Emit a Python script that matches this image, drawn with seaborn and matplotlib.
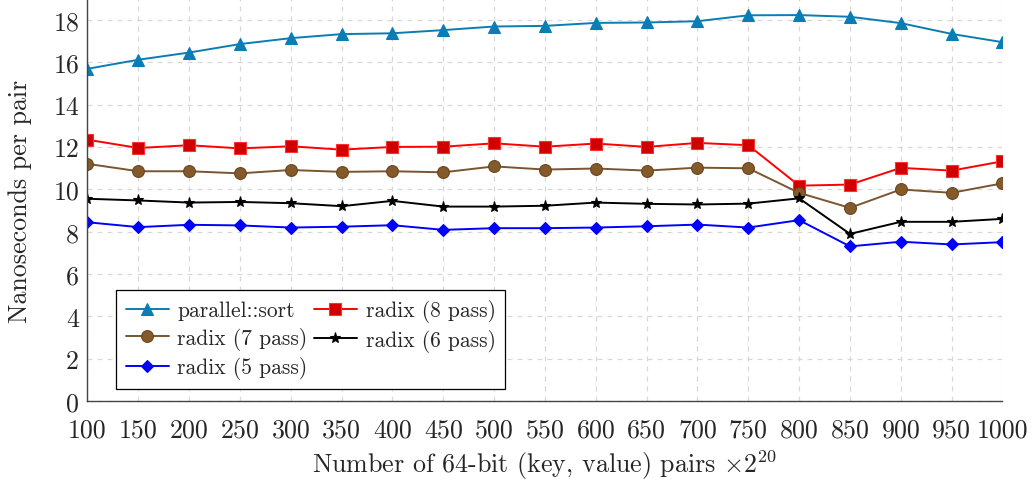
import matplotlib
matplotlib.use("Agg")
import matplotlib.pyplot as plt
import seaborn as sns
import pandas as pd

sizes = [100, 150, 200, 250, 300, 350, 400, 450, 500, 550, 600, 650, 700, 750, 800, 850, 900, 950, 1000]
parallel_sort = [15.70, 16.13, 16.47, 16.87, 17.15, 17.34, 17.38, 17.53, 17.70, 17.73, 17.87, 17.89, 17.95,
                 18.23, 18.24, 18.16, 17.86, 17.35, 16.96]
radix8 = [12.35, 11.96, 12.09, 11.94, 12.04, 11.88, 12.01, 12.02, 12.18, 12.02, 12.17, 12.01, 12.20,
          12.09, 10.18, 10.23, 11.02, 10.89, 11.33]
radix7 = [11.21, 10.86, 10.86, 10.76, 10.92, 10.83, 10.86, 10.81, 11.09, 10.94, 10.99, 10.89, 11.03,
          11.00, 9.84, 9.13, 10.00, 9.84, 10.29]
radix6 = [9.56, 9.48, 9.38, 9.41, 9.35, 9.21, 9.46, 9.19, 9.19, 9.23, 9.38, 9.32, 9.29,
          9.33, 9.58, 7.90, 8.47, 8.47, 8.61]
radix5 = [8.45, 8.22, 8.33, 8.30, 8.20, 8.24, 8.31, 8.09, 8.17, 8.17, 8.20, 8.26, 8.34,
          8.20, 8.55, 7.31, 7.53, 7.40, 7.51]
y_ticks = [0, 2, 4, 6, 8, 10, 12, 14, 16, 18]

sns.set_style("white")
plt.rcParams["font.family"] = "serif"
plt.rcParams["font.serif"] = ["cmr10"]
plt.rcParams["mathtext.fontset"] = "cm"
plt.rcParams["axes.formatter.use_mathtext"] = True

fig = plt.figure(figsize=(10.34, 4.85), dpi=100)
ax = fig.add_axes([0.0846, 0.171, 0.8849, 0.829])

series = [
    ("parallel::sort", parallel_sort, "#0a7db4", "#0a7db4", "#0a7db4", "^", 8.5),
    ("radix (8 pass)", radix8, "#ff0000", "#d00000", "#ff3030", "s", 8),
    ("radix (7 pass)", radix7, "#7a5530", "#855a2a", "#6a4520", "o", 8.5),
    ("radix (6 pass)", radix6, "#000000", "#000000", "#000000", "*", 8),
    ("radix (5 pass)", radix5, "#0000ff", "#0000ff", "#0000ff", "D", 6.5),
]

handles = {}
for name, vals, lc, fc, ec, mk, ms in series:
    df = pd.DataFrame({"size": sizes, "ns": vals})
    sns.lineplot(data=df, x="size", y="ns", ax=ax, color=lc, marker=mk,
                 markersize=ms, markerfacecolor=fc, markeredgecolor=ec,
                 markeredgewidth=0.8, linewidth=1.4, label=name)
    handles[name] = ax.lines[-1]

ax.set_xlim(100, 1000)
ax.set_ylim(0, 19)
ax.set_xticks(sizes)
ax.set_xticklabels([str(s) for s in sizes])
ax.set_yticks(y_ticks)
ax.set_yticklabels([str(t) for t in y_ticks])
ax.tick_params(axis="both", direction="in", length=4, width=0.8, color="#888888",
               labelsize=18.7, pad=12)
ax.tick_params(axis="y", pad=6)

ax.grid(True, linestyle=(0, (4, 4)), color="#d8d8d8", linewidth=0.9)
ax.set_axisbelow(True)
for side in ["top", "right"]:
    ax.spines[side].set_visible(False)
for side in ["left", "bottom"]:
    ax.spines[side].set_color("#444444")
    ax.spines[side].set_linewidth(1.0)

ax.set_xlabel(r"Number of 64-bit (key, value) pairs $\times 2^{20}$", fontsize=18.7, labelpad=4)
ax.set_ylabel("Nanoseconds per pair", fontsize=18.7, labelpad=15)

order = ["parallel::sort", "radix (7 pass)", "radix (5 pass)", "radix (8 pass)", "radix (6 pass)"]
leg = ax.legend([handles[n] for n in order], order, ncol=2, loc="lower left",
                bbox_to_anchor=(0.031, 0.03), borderaxespad=0, fontsize=15.5, frameon=True,
                fancybox=False, framealpha=1, edgecolor="black", borderpad=0.45,
                labelspacing=0.3, handlelength=2.0, handletextpad=0.4, columnspacing=0.3)
leg.get_frame().set_linewidth(0.9)

fig.savefig("out.png", dpi=100)
